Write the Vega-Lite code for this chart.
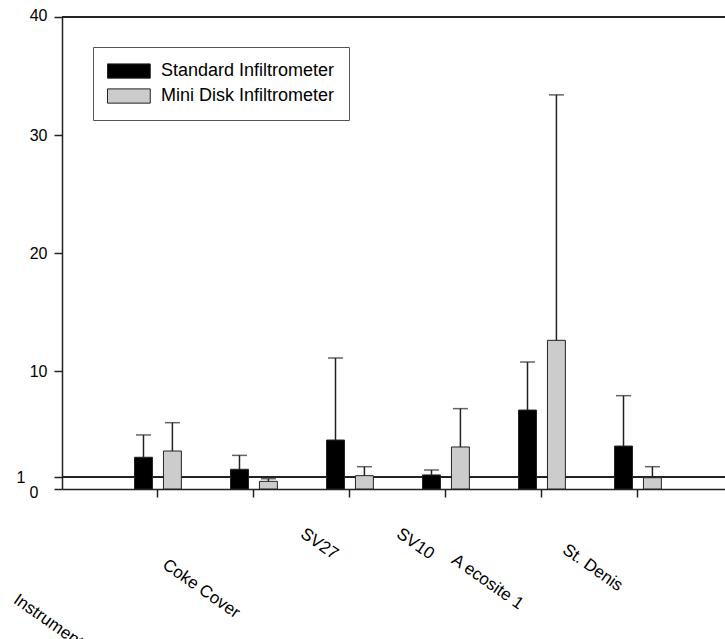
{
  "$schema": "https://vega.github.io/schema/vega-lite/v6.json",
  "autosize": "none",
  "width": 663,
  "height": 472,
  "padding": {"left": 62, "top": 17, "right": 0, "bottom": 150},
  "background": "white",
  "config": {
    "font": "Liberation Sans",
    "view": {"stroke": null},
    "axis": {"labelFont": "Liberation Sans", "labelColor": "black", "domainColor": "#222", "grid": false, "title": null}
  },
  "data": {
    "values": [
      {"site": "Instrument", "series": "Standard Infiltrometer", "value": 2.69, "upper": 4.58},
      {"site": "Instrument", "series": "Mini Disk Infiltrometer", "value": 3.22, "upper": 5.62},
      {"site": "Coke Cover", "series": "Standard Infiltrometer", "value": 1.67, "upper": 2.85},
      {"site": "Coke Cover", "series": "Mini Disk Infiltrometer", "value": 0.65, "upper": 0.87},
      {"site": "SV27", "series": "Standard Infiltrometer", "value": 4.15, "upper": 11.1},
      {"site": "SV27", "series": "Mini Disk Infiltrometer", "value": 1.13, "upper": 1.89},
      {"site": "SV10", "series": "Standard Infiltrometer", "value": 1.19, "upper": 1.61},
      {"site": "SV10", "series": "Mini Disk Infiltrometer", "value": 3.56, "upper": 6.81},
      {"site": "A ecosite 1", "series": "Standard Infiltrometer", "value": 6.69, "upper": 10.76},
      {"site": "A ecosite 1", "series": "Mini Disk Infiltrometer", "value": 12.6, "upper": 33.4},
      {"site": "St. Denis", "series": "Standard Infiltrometer", "value": 3.64, "upper": 7.91},
      {"site": "St. Denis", "series": "Mini Disk Infiltrometer", "value": 0.96, "upper": 1.89}
    ]
  },
  "encoding": {
    "x": {
      "field": "site",
      "type": "nominal",
      "sort": ["Instrument", "Coke Cover", "SV27", "SV10", "A ecosite 1", "St. Denis"],
      "scale": {"paddingInner": 0.5, "paddingOuter": 0.703, "align": 0.533},
      "axis": {
        "orient": "bottom",
        "labelAngle": 35,
        "labelAlign": "left",
        "labelBaseline": "top",
        "labelFontSize": 17,
        "labelOverlap": false,
        "labelBound": false,
        "labelLimit": 0,
        "tickSize": 8,
        "tickWidth": 1.5,
        "tickColor": "#222",
        "domainWidth": 1.5,
        "labelOffset": {
          "condition": [
            {"test": "datum.value === 'Instrument'", "value": -138},
            {"test": "datum.value === 'Coke Cover'", "value": -85},
            {"test": "datum.value === 'A ecosite 1'", "value": -84},
            {"test": "datum.value === 'St. Denis'", "value": -69}
          ],
          "value": -43
        },
        "labelPadding": {
          "condition": [
            {"test": "datum.value === 'Instrument'", "value": 94},
            {"test": "datum.value === 'Coke Cover'", "value": 59},
            {"test": "datum.value === 'A ecosite 1'", "value": 54},
            {"test": "datum.value === 'St. Denis'", "value": 44}
          ],
          "value": 28
        }
      }
    },
    "y": {
      "field": "value",
      "type": "quantitative",
      "scale": {"domain": [0, 40], "nice": false, "zero": true},
      "axis": {
        "values": [0, 1, 10, 20, 30, 40],
        "labelFontSize": 16,
        "labelOverlap": false,
        "labelFlush": false,
        "labelBound": false,
        "ticks": true,
        "tickColor": "#222",
        "tickWidth": 1.5,
        "tickSize": 8,
        "domainWidth": 1.5,
        "labelPadding": {
          "condition": [
            {"test": "datum.value === 1", "value": 29},
            {"test": "datum.value === 0", "value": 16}
          ],
          "value": 7
        },
        "labelOffset": {
          "condition": [
            {"test": "datum.value === 0", "value": 3},
            {"test": "datum.value === 40", "value": -2}
          ],
          "value": 0
        }
      }
    }
  },
  "layer": [
    {
      "mark": {"type": "rule", "color": "#222", "strokeWidth": 2},
      "encoding": {"x": null, "y": {"datum": 40}}
    },
    {
      "mark": {"type": "rule", "color": "#222", "strokeWidth": 1.5},
      "encoding": {"x": null, "y": {"datum": 1}}
    },
    {
      "mark": {"type": "bar", "stroke": "#222", "strokeWidth": 1},
      "encoding": {
        "xOffset": {
          "field": "series",
          "type": "nominal",
          "sort": ["Standard Infiltrometer", "Mini Disk Infiltrometer"],
          "scale": {"paddingInner": 0.38, "paddingOuter": 0.02}
        },
        "color": {
          "field": "series",
          "type": "nominal",
          "sort": ["Standard Infiltrometer", "Mini Disk Infiltrometer"],
          "scale": {"domain": ["Standard Infiltrometer", "Mini Disk Infiltrometer"], "range": ["#000000", "#cccccc"]},
          "legend": {
            "title": null,
            "orient": "none",
            "legendX": 31,
            "legendY": 30,
            "strokeColor": "#555",
            "padding": 14,
            "symbolType": "M-1,-0.75H3.5V0.75H-1Z",
            "symbolSize": 361,
            "symbolStrokeColor": "#222",
            "symbolStrokeWidth": 1,
            "symbolOpacity": 1,
            "labelFontSize": 18,
            "labelFont": "Liberation Sans",
            "labelColor": "black",
            "labelOffset": 34,
            "labelLimit": 0,
            "rowPadding": 5
          }
        }
      }
    },
    {
      "mark": {"type": "rule", "color": "#222", "strokeWidth": 1.5},
      "encoding": {
        "xOffset": {
          "field": "series",
          "type": "nominal",
          "sort": ["Standard Infiltrometer", "Mini Disk Infiltrometer"],
          "scale": {"paddingInner": 0.38, "paddingOuter": 0.02}
        },
        "y2": {"field": "upper"}
      }
    },
    {
      "mark": {"type": "tick", "color": "#222", "thickness": 1.5, "size": 15, "orient": "horizontal"},
      "encoding": {
        "xOffset": {
          "field": "series",
          "type": "nominal",
          "sort": ["Standard Infiltrometer", "Mini Disk Infiltrometer"],
          "scale": {"paddingInner": 0.38, "paddingOuter": 0.02}
        },
        "y": {"field": "upper", "type": "quantitative"}
      }
    }
  ]
}
